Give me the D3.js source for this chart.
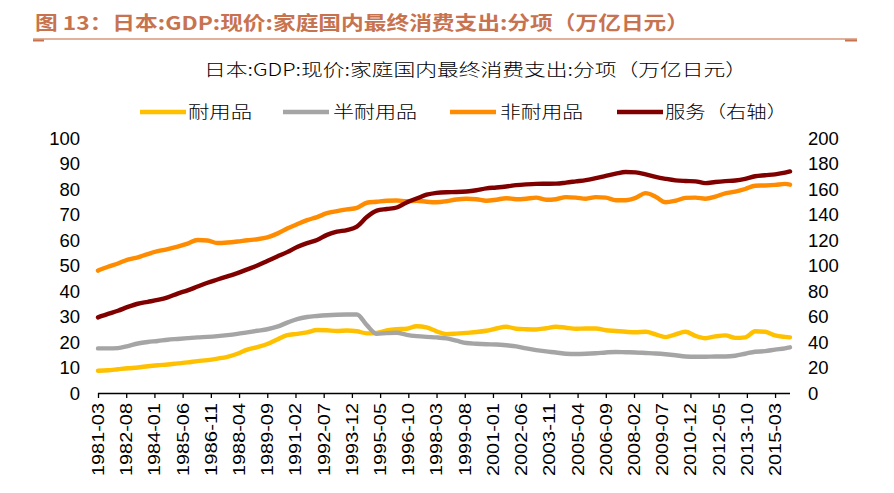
<!DOCTYPE html>
<html><head><meta charset="utf-8">
<script src="https://cdnjs.cloudflare.com/ajax/libs/d3/7.8.5/d3.min.js"></script>
<style>body{margin:0;background:#fff}svg{display:block}</style>
</head><body><svg id="c" width="894" height="493"></svg>
<script>
const titleText = "图 13：日本:GDP:现价:家庭国内最终消费支出:分项（万亿日元）";
const subTitleText = "日本:GDP:现价:家庭国内最终消费支出:分项（万亿日元）";
const seriesNames = ["耐用品","半耐用品","非耐用品","服务（右轴）"];
const dates = [
"1981-03","1981-09","1982-03","1982-09","1983-03","1983-09","1984-03","1984-09","1985-03","1985-09",
"1986-03","1986-09","1987-03","1987-09","1988-03","1988-09","1989-03","1989-09","1990-03","1990-09",
"1991-03","1991-09","1992-03","1992-09","1993-03","1993-09","1994-03","1994-09","1995-03","1995-09",
"1996-03","1996-09","1997-03","1997-09","1998-03","1998-09","1999-03","1999-09","2000-03","2000-09",
"2001-03","2001-09","2002-03","2002-09","2003-03","2003-09","2004-03","2004-09","2005-03","2005-09",
"2006-03","2006-09","2007-03","2007-09","2008-03","2008-09","2009-03","2009-09","2010-03","2010-09",
"2011-03","2011-09","2012-03","2012-09","2013-03","2013-09","2014-03","2014-09","2015-03","2015-09",
"2015-12"];
const durable = [
8.7,8.9,9.3,9.7,10.0,10.5,10.9,11.2,11.6,12.0,
12.5,12.9,13.5,14.2,15.4,17.0,18.0,19.2,21.0,22.7,
23.2,23.8,24.7,24.6,24.3,24.5,24.2,23.4,23.6,24.5,
25.0,25.2,26.2,25.7,24.2,23.1,23.3,23.6,23.9,24.4,
25.3,26.0,25.2,25.0,24.9,25.4,26.0,25.6,25.2,25.3,
25.3,24.6,24.3,24.0,23.8,24.0,23.0,21.9,23.0,24.0,
22.4,21.5,22.2,22.6,21.6,21.8,24.2,24.0,22.6,22.0,
21.8];
const semiDurable = [
17.5,17.5,17.6,18.4,19.4,20.0,20.4,20.9,21.2,21.5,
21.8,22.0,22.3,22.7,23.2,23.8,24.4,25.0,26.0,27.6,
29.0,29.8,30.2,30.5,30.7,30.8,30.8,26.6,23.2,23.5,
23.6,22.8,22.3,22.0,21.8,21.4,20.5,19.6,19.3,19.1,
19.0,18.7,18.3,17.5,16.8,16.3,15.9,15.4,15.3,15.4,
15.6,15.9,16.1,16.0,15.9,15.7,15.5,15.2,14.8,14.3,
14.2,14.2,14.3,14.3,14.6,15.4,16.2,16.4,17.0,17.5,
17.9];
const nonDurable = [
48.0,49.5,50.8,52.3,53.2,54.5,55.6,56.4,57.4,58.6,
60.0,59.8,58.8,59.0,59.4,59.9,60.3,61.0,62.5,64.5,
66.2,67.8,69.0,70.5,71.3,72.0,72.6,74.6,75.0,75.4,
75.5,75.2,75.4,75.0,74.8,75.2,75.9,76.2,76.0,75.4,
75.8,76.4,76.0,76.2,76.6,75.8,76.0,76.8,76.6,76.2,
76.8,76.6,75.6,75.6,76.5,78.4,77.0,74.8,75.4,76.5,
76.6,76.2,77.0,78.3,79.0,80.0,81.3,81.4,81.6,82.0,
81.7];
const services = [
59.3,62.0,64.5,67.5,70.0,71.5,73.0,75.0,78.0,80.5,
83.5,86.5,89.0,91.5,94.0,97.0,100.0,103.5,107.0,110.5,
114.5,117.5,120.0,124.0,126.5,127.8,130.5,138.0,143.0,144.3,
145.5,149.5,152.5,155.5,157.0,157.5,157.6,158.0,159.0,160.5,
161.2,162.0,163.0,163.6,164.0,164.1,164.2,165.0,166.0,167.0,
168.5,170.3,172.0,173.3,173.0,171.5,169.5,168.0,166.8,166.3,
166.0,164.6,165.5,166.2,166.7,168.0,170.0,170.8,171.5,172.8,
173.8];
const xTickLabels = ["1981-03","1982-08","1984-01","1985-06","1986-11","1988-04","1989-09","1991-02",
"1992-07","1993-12","1995-05","1996-10","1998-03","1999-08","2001-01","2002-06","2003-11","2005-04",
"2006-09","2008-02","2009-07","2010-12","2012-05","2013-10","2015-03"];
const leftTicks = [0,10,20,30,40,50,60,70,80,90,100];
const rightTicks = [0,20,40,60,80,100,120,140,160,180,200];
const colors = ["#FFC000","#A5A5A5","#FF8C00","#800000"];

const svg = d3.select("#c");
const numFont = "'Liberation Sans', Arial, sans-serif";
const cjkFont = "'Noto Sans CJK SC', sans-serif";
const mIdx = s => { const [y,m] = s.split("-").map(Number); return y*12 + m; };

const x = d3.scaleLinear().domain([mIdx(dates[0]), mIdx(dates[dates.length-1])]).range([98, 790]);
const yL = d3.scaleLinear().domain([0,100]).range([393,138]);
const yR = d3.scaleLinear().domain([0,200]).range([393,138]);

// Title
svg.append("text").attr("x",35).attr("y",30).attr("font-family",cjkFont).attr("font-weight","bold")
  .attr("font-size",19).attr("fill","#C8734F").attr("textLength",654).attr("lengthAdjust","spacingAndGlyphs").text(titleText);
svg.append("line").attr("x1",33).attr("x2",857).attr("y1",39).attr("y2",39).attr("stroke","#D9977B").attr("stroke-width",1.3);
svg.append("rect").attr("x",33).attr("y",39.5).attr("width",11).attr("height",2).attr("fill","#C8734F");
svg.append("rect").attr("x",845).attr("y",39.5).attr("width",12).attr("height",2).attr("fill","#C8734F");

// Subtitle
svg.append("text").attr("x",204).attr("y",76).attr("font-family",cjkFont).attr("font-size",17.5).attr("font-weight",300)
  .attr("fill","#000").attr("textLength",543).attr("lengthAdjust","spacingAndGlyphs").text(subTitleText);

// Legend
const legendLayout = [{lx:140,tx:188,tw:64},{lx:283,tx:333,tw:84},{lx:450,tx:500,tw:83},{lx:617,tx:665,tw:122}];
seriesNames.forEach((n,i)=>{
  const L = legendLayout[i];
  svg.append("line").attr("x1",L.lx).attr("x2",L.lx+46).attr("y1",112).attr("y2",112)
    .attr("stroke",colors[i]).attr("stroke-width",4.5);
  svg.append("text").attr("x",L.tx).attr("y",118).attr("font-family",cjkFont).attr("font-size",17).attr("font-weight",300)
    .attr("textLength",L.tw).attr("lengthAdjust","spacingAndGlyphs").text(n);
});

// Y axis labels
svg.append("g").selectAll("text").data(leftTicks).join("text")
  .attr("x",80).attr("y",d=>yL(d)).attr("dy","0.36em").attr("text-anchor","end")
  .attr("font-family",numFont).attr("font-size",18.5).text(d=>d);
svg.append("g").selectAll("text").data(rightTicks).join("text")
  .attr("x",808).attr("y",d=>yR(d)).attr("dy","0.36em").attr("text-anchor","start")
  .attr("font-family",numFont).attr("font-size",18.5).text(d=>d);

// X axis
const xAxis = d3.axisBottom(x).tickValues(xTickLabels.map(mIdx)).tickSize(5).tickFormat("");
const gx = svg.append("g").attr("transform","translate(0,393)").call(xAxis);
gx.select(".domain").attr("d","M98,0.5H790").attr("stroke","#000").attr("stroke-width",1.3);
gx.selectAll(".tick line").attr("stroke","#000").attr("stroke-width",1.3);
svg.append("g").selectAll("text").data(xTickLabels).join("text")
  .attr("transform",d=>`translate(${x(mIdx(d))},403) rotate(-90)`)
  .attr("text-anchor","end").attr("dy","0.36em")
  .attr("font-family",numFont).attr("font-size",16.5)
  .attr("textLength",73).attr("lengthAdjust","spacingAndGlyphs").text(d=>d);

// Lines
const seriesData = [
  {vals:durable, y:yL}, {vals:semiDurable, y:yL}, {vals:nonDurable, y:yL}, {vals:services, y:yR}
];
seriesData.forEach((s,i)=>{
  const line = d3.line().x((d,j)=>x(mIdx(dates[j]))).y(d=>s.y(d)).curve(d3.curveMonotoneX);
  svg.append("path").datum(s.vals).attr("d",line).attr("fill","none")
    .attr("stroke",colors[i]).attr("stroke-width",4.4).attr("stroke-linejoin","round").attr("stroke-linecap","round");
});
</script></body></html>
